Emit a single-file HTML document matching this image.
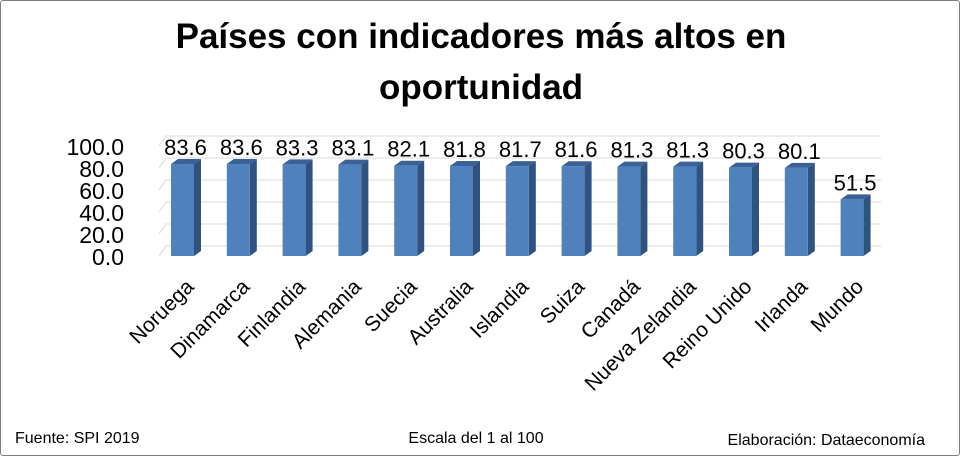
<!DOCTYPE html>
<html><head><meta charset="utf-8"><style>
body{margin:0;width:960px;height:456px;background:#fff;overflow:hidden;font-family:"Liberation Sans",sans-serif}
#wrap{position:absolute;left:0;top:0;width:958px;height:454px;border:1px solid #7f7f7f;border-radius:3px}
</style></head><body>
<div id="wrap">
<svg id="chart" width="960" height="456">
<text x="480" y="47" text-anchor="middle" font-size="35" font-weight="bold">Países con indicadores más altos en</text>
<text x="480" y="98" text-anchor="middle" font-size="35" font-weight="bold">oportunidad</text>
<g id="grid"></g><g id="bars"></g><g id="labels"></g>
<text x="14" y="442" font-size="16">Fuente: SPI 2019</text>
<text x="475" y="442" font-size="16" text-anchor="middle">Escala del 1 al 100</text>
<text x="924" y="444" font-size="16" text-anchor="end">Elaboración: Dataeconomía</text>
</svg></div>
<script>
const categories=["Noruega","Dinamarca","Finlandia","Alemania","Suecia","Australia","Islandia","Suiza","Canadá","Nueva Zelandia","Reino Unido","Irlanda","Mundo"];
const values=[83.6,83.6,83.3,83.1,82.1,81.8,81.7,81.6,81.3,81.3,80.3,80.1,51.5];
const ticks=[0,20,40,60,80,100];
const NS="http://www.w3.org/2000/svg";
const y0=255,k=1.1,dx=7,dy=10,x0=170,step=55.8,bw=23;
const y=v=>y0-v*k;
const xb=i=>x0+i*step;
function mk(t,a,p){const e=document.createElementNS(NS,t);for(const n in a)e.setAttribute(n,a[n]);p.appendChild(e);return e;}
const g=document.getElementById('grid'),b=document.getElementById('bars'),l=document.getElementById('labels');
ticks.forEach(t=>{
 const ln=mk('polyline',{points:`${158},${y(t)} ${165},${y(t)-dy} ${880},${y(t)-dy}`,fill:'none',stroke:'#d9d9d9','stroke-width':1},g);
 
 
 const tx=mk('text',{x:123,y:y(t)+9,'text-anchor':'end','font-size':23},l);
 tx.textContent=t.toFixed(1);
 
 
});
values.forEach((v,i)=>{
 const x=xb(i),top=y(v);
 const grp=mk('g',{},b);
 
 
 mk('polygon',{points:`${x+bw},${top} ${x+bw+dx},${top-5} ${x+bw+dx},${y0-5} ${x+bw},${y0}`,fill:'#2f5280'},grp);
 mk('polygon',{points:`${x},${top} ${x+dx},${top-5} ${x+bw+dx},${top-5} ${x+bw},${top}`,fill:'#3a6296'},grp);
 mk('rect',{x:x,y:top,width:bw,height:y0-top,fill:'#4f81bd'},grp);
 const vt=mk('text',{x:x+bw/2+3,y:top-9,'text-anchor':'middle','font-size':22},l);
 vt.textContent=v.toFixed(1);
 
 
 const ct=mk('text',{x:0,y:0,'text-anchor':'end','font-size':21,transform:`translate(${x+bw+1},${287}) rotate(-45)`},l);
 ct.textContent=categories[i];
 
 
});
</script>
</body></html>
